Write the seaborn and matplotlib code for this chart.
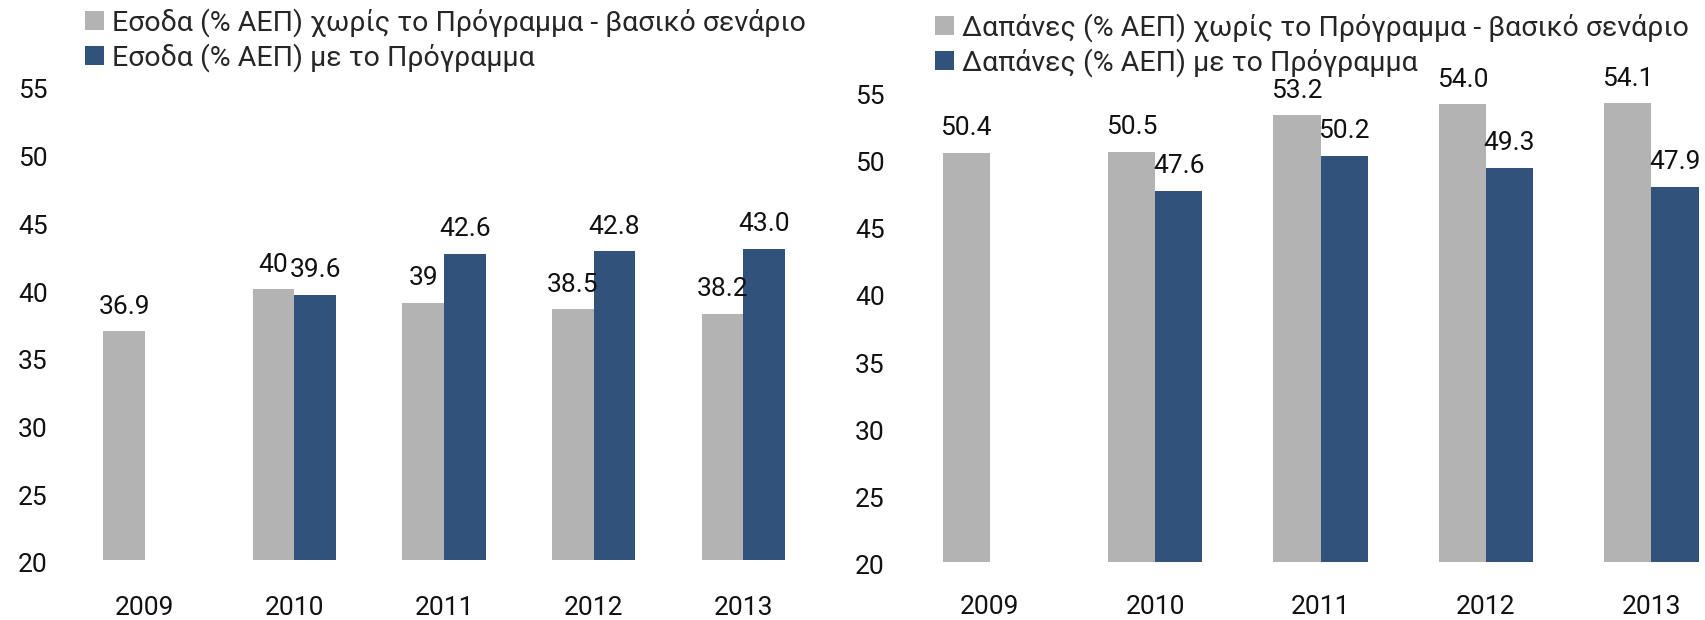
import matplotlib
matplotlib.use("Agg")
import matplotlib.pyplot as plt
import matplotlib.transforms as mtransforms
import seaborn as sns
import pandas as pd
import numpy as np

years = ["2009", "2010", "2011", "2012", "2013"]

revenue_base = [36.9, 40, 39, 38.5, 38.2]
revenue_prog = [np.nan, 39.6, 42.6, 42.8, 43.0]
revenue_base_labels = ["36.9", "40", "39", "38.5", "38.2"]
revenue_prog_labels = ["", "39.6", "42.6", "42.8", "43.0"]

spend_base = [50.4, 50.5, 53.2, 54.0, 54.1]
spend_prog = [np.nan, 47.6, 50.2, 49.3, 47.9]
spend_base_labels = ["50.4", "50.5", "53.2", "54.0", "54.1"]
spend_prog_labels = ["", "47.6", "50.2", "49.3", "47.9"]

rev_names = ["Εσοδα (% ΑΕΠ) χωρίς το Πρόγραμμα - βασικό σενάριο",
             "Εσοδα (% ΑΕΠ) με το Πρόγραμμα"]
spend_names = ["Δαπάνες (% ΑΕΠ) χωρίς το Πρόγραμμα - βασικό σενάριο",
               "Δαπάνες (% ΑΕΠ) με το Πρόγραμμα"]

yticks = [20, 25, 30, 35, 40, 45, 50, 55]

grey = "#b3b3b3"
blue = "#31527a"

sns.set_theme(style="white")
plt.rcParams['font.family'] = ['Roboto', 'DejaVu Sans']

fig = plt.figure(figsize=(17.06, 6.2), dpi=100)
ax1 = fig.add_axes([70 / 1706, 60 / 620, 748 / 1706, 474 / 620])
ax2 = fig.add_axes([907 / 1706, 58 / 620, 799 / 1706, 471 / 620])


def draw(ax, base, prog, names, base_labels, prog_labels, width, xmax, xpad, legend_xy):
    df = pd.DataFrame({
        "year": years * 2,
        "value": list(base) + list(prog),
        "series": [names[0]] * len(years) + [names[1]] * len(years),
    })
    sns.barplot(data=df, x="year", y="value", hue="series", order=years,
                hue_order=names, palette=[grey, blue], width=width,
                saturation=1, errorbar=None, linewidth=0, ax=ax)
    ax.set_ylim(20, 55)
    ax.set_xlim(-0.5, xmax)
    # value labels above bars (missing 2009 bar is skipped)
    for cont, vals, labs in zip(ax.containers, [base, prog], [base_labels, prog_labels]):
        labs = [l for v, l in zip(vals, labs) if not np.isnan(v)]
        bars = [b for b in cont if b is not None]
        for bar, lab in zip(bars, labs):
            ax.annotate(lab, (bar.get_x() + bar.get_width() / 2, bar.get_height()),
                        xytext=(0, 9), textcoords="offset points",
                        ha="center", va="bottom", fontsize=19, color="#111111")
    ax.set_yticks(yticks)
    ax.set_yticklabels([str(t) for t in yticks])
    ax.tick_params(axis="y", labelsize=19, pad=16, length=0, colors="#111111")
    ax.tick_params(axis="x", labelsize=19, pad=xpad, length=0, colors="#111111")
    off = mtransforms.ScaledTranslation(0, -3 / 100, fig.dpi_scale_trans)
    for lab in ax.get_yticklabels():
        lab.set_transform(lab.get_transform() + off)
    ax.set_xlabel("")
    ax.set_ylabel("")
    for s in ax.spines.values():
        s.set_visible(False)
    ax.legend(loc="upper left", bbox_to_anchor=legend_xy,
              bbox_transform=fig.transFigure, frameon=False, fontsize=20.5,
              handlelength=0.65, handleheight=0.65, handletextpad=0.3,
              labelspacing=0.22, borderaxespad=0, borderpad=0)


draw(ax1, revenue_base, revenue_prog, rev_names, revenue_base_labels,
     revenue_prog_labels, 0.555, 4.5, 26, (85 / 1706, 1 - 8 / 620))
draw(ax2, spend_base, spend_prog, spend_names, spend_base_labels,
     spend_prog_labels, 0.57, 4.33, 24, (935 / 1706, 1 - 13 / 620))

fig.savefig("out.png", dpi=100)
